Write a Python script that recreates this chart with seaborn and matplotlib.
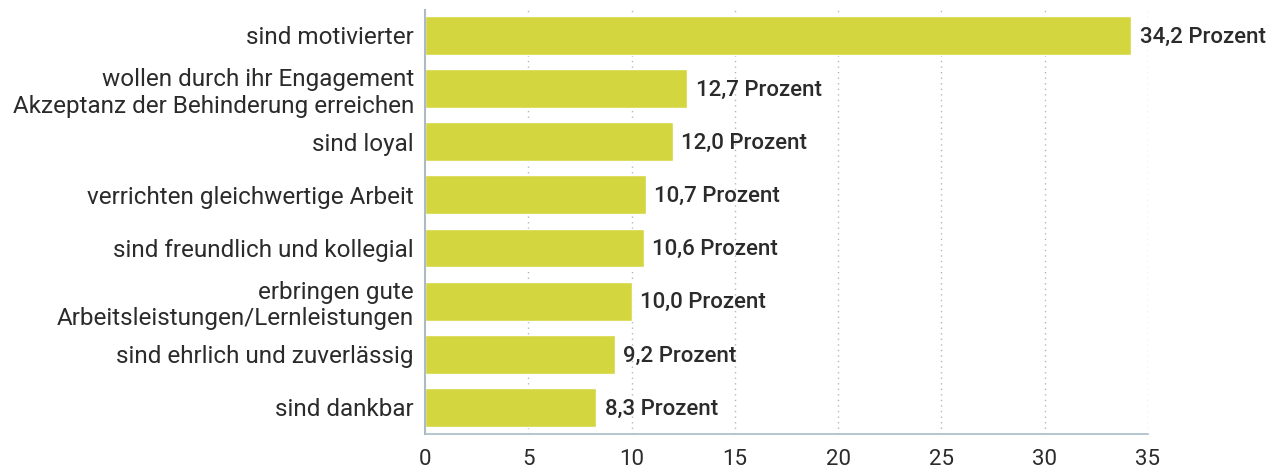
import matplotlib
matplotlib.use('Agg')
import matplotlib.pyplot as plt
import seaborn as sns
import pandas as pd

kategorien = [
    'sind motivierter',
    'wollen durch ihr Engagement\nAkzeptanz der Behinderung erreichen',
    'sind loyal',
    'verrichten gleichwertige Arbeit',
    'sind freundlich und kollegial',
    'erbringen gute\nArbeitsleistungen/Lernleistungen',
    'sind ehrlich und zuverlässig',
    'sind dankbar',
]
werte = [34.2, 12.7, 12.0, 10.7, 10.6, 10.0, 9.2, 8.3]
x_ticks = [0, 5, 10, 15, 20, 25, 30, 35]

BALKEN = '#d4d63f'
LINIE = '#a9bcc6'
TEXT = '#2b2b2b'

sns.set_style('white')
plt.rcParams['font.family'] = ['Roboto', 'DejaVu Sans']

df = pd.DataFrame({'kategorie': kategorien, 'wert': werte})

fig = plt.figure(figsize=(12.78, 4.72), dpi=100)
ax = fig.add_axes([0.3326, 0.0805, 0.5655, 0.8985])

sns.barplot(data=df, y='kategorie', x='wert', color=BALKEN, saturation=1,
            width=0.73, ax=ax, zorder=2)

for i, w in enumerate(werte):
    ax.text(w + 0.4, i + 0.03, f'{w:.1f}'.replace('.', ',') + ' Prozent',
            va='center', ha='left', fontsize=16, color=TEXT,
            fontweight='medium')

ax.set_xlim(0, 35)
ax.set_ylim(7.5, -0.48)
ax.set_xticks(x_ticks)
ax.set_xticklabels([str(t) for t in x_ticks], fontsize=16, color=TEXT)
ax.set_yticklabels(kategorien, fontsize=17.5, color=TEXT, linespacing=1.2)
ax.set_xlabel('')
ax.set_ylabel('')
ax.tick_params(axis='y', length=0, pad=8)
ax.tick_params(axis='x', length=0, pad=11)

for t in x_ticks[1:]:
    ax.axvline(t, color=LINIE, linestyle=(0, (1, 3)), linewidth=1, zorder=1)

sns.despine(ax=ax, top=True, right=True)
ax.spines['left'].set_color(LINIE)
ax.spines['bottom'].set_color(LINIE)
ax.spines['left'].set_linewidth(1.5)
ax.spines['bottom'].set_linewidth(1.2)

fig.savefig('out.png', dpi=100)
